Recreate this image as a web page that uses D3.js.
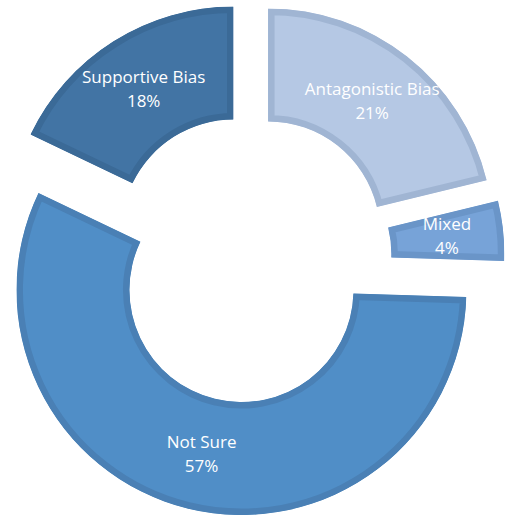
<!DOCTYPE html>
<html>
<head>
<meta charset="utf-8">
<script src="https://cdn.jsdelivr.net/npm/d3@7"></script>
<style>
  body { margin: 0; background: #fff; }
  text { font-family: "Open Sans", "Noto Sans", sans-serif; }
</style>
</head>
<body>
<script>
// slices in clockwise order from 12 o'clock
var categories = ["Antagonistic Bias", "Mixed", "Not Sure", "Supportive Bias"];
var values = [21.2, 4.3, 56.6, 17.9];

var fills   = ["#b5c8e4", "#77a3d8", "#508ec7", "#4274a4"];
var borders = ["#a0b5d3", "#6a95c8", "#4a80b5", "#3b6a97"];
var explode = [30, 30, 34, 30];

var width = 509, height = 518;
var cx = 249.5, cy = 257;
var outerR = 225, innerR = 112;

var svg = d3.select("body").append("svg")
  .attr("width", width)
  .attr("height", height);

var total = d3.sum(values);

var pie = d3.pie()
  .sort(null)
  .value(function(d){ return d.value; });

var data = pie(categories.map(function(c, i){ return {name: c, value: values[i], i: i}; }));

var arc = d3.arc()
  .innerRadius(innerR)
  .outerRadius(outerR);

var labelArc = d3.arc()
  .innerRadius((innerR + outerR) / 2)
  .outerRadius((innerR + outerR) / 2);

var chartGroup = svg.append("g").attr("transform", "translate(" + cx + "," + cy + ")");

var defs = svg.append("defs");

var slices = chartGroup.selectAll("g.slice")
  .data(data)
  .enter().append("g")
  .attr("class", "slice")
  .attr("transform", function(d){
    var mid = (d.startAngle + d.endAngle) / 2;
    var off = explode[d.data.i];
    return "translate(" + (Math.sin(mid) * off) + "," + (-Math.cos(mid) * off) + ")";
  });

slices.each(function(d){
  defs.append("clipPath")
    .attr("id", "clip" + d.data.i)
    .append("path")
    .attr("d", arc(d));
});

// fill plus an inner border (stroke clipped to its own shape)
slices.append("path")
  .attr("d", arc)
  .attr("fill", function(d){ return fills[d.data.i]; })
  .attr("stroke", function(d){ return borders[d.data.i]; })
  .attr("stroke-width", 13)
  .attr("stroke-linejoin", "miter")
  .attr("clip-path", function(d){ return "url(#clip" + d.data.i + ")"; });

var labels = slices.append("text")
  .attr("transform", function(d){ return "translate(" + labelArc.centroid(d) + ")"; })
  .attr("text-anchor", "middle")
  .attr("fill", "#ffffff")
  .style("font-size", "17px");

labels.append("tspan")
  .attr("x", 0)
  .attr("y", -6)
  .text(function(d){ return d.data.name; });

labels.append("tspan")
  .attr("x", 0)
  .attr("y", 18)
  .text(function(d){ return Math.round(d.data.value / total * 100) + "%"; });
</script>
</body>
</html>
